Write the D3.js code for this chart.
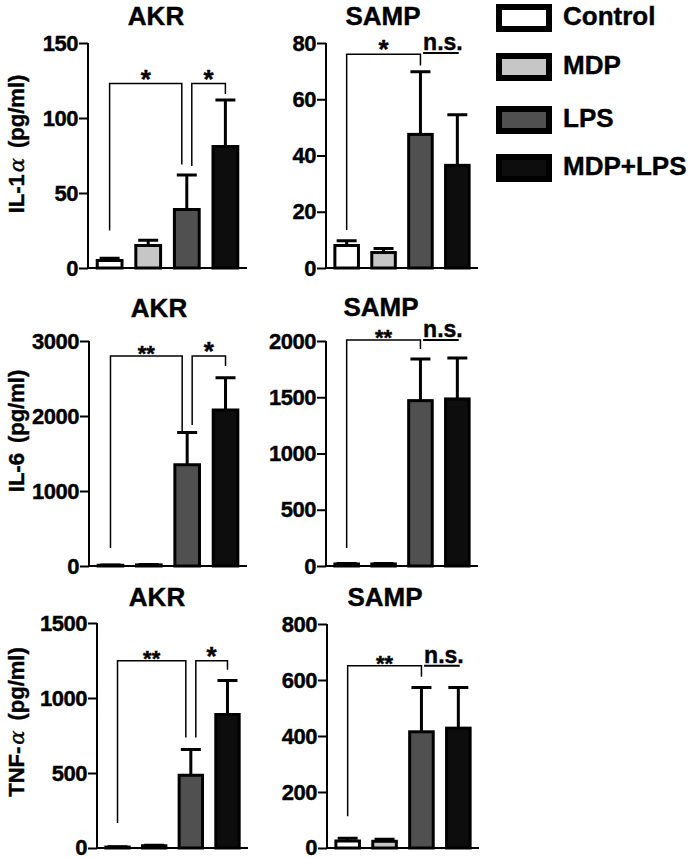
<!doctype html>
<html>
<head>
<meta charset="utf-8">
<script type='text/javascript' src='https://d3js.org/d3.v7.min.js'></script>
<style>
body { margin: 0; background: #fff; }
text { font-family: 'Liberation Sans', Arial, sans-serif; font-weight: bold; fill: #000; stroke: #000; stroke-width: 0.4px; }
</style>
</head>
<body>
<script>
var width = 697, height = 859;

// groups and colours
var groups = ['Control', 'MDP', 'LPS', 'MDP+LPS'];
var fills = ['#ffffff', '#c6c6c6', '#505050', '#0d0d0d'];

// IL-1a (pg/ml)
var il1AkrMean = [5, 15, 39, 81];
var il1AkrErr = [1.5, 3.5, 23, 31];
var il1SampMean = [8, 5.5, 47.5, 36.5];
var il1SampErr = [1.7, 1.4, 22.3, 18];
// IL-6 (pg/ml)
var il6AkrMean = [10, 15, 1350, 2080];
var il6AkrErr = [4, 5, 430, 430];
var il6SampMean = [18, 18, 1470, 1485];
var il6SampErr = [5, 5, 370, 365];
// TNF-a (pg/ml)
var tnfAkrMean = [6, 15, 485, 890];
var tnfAkrErr = [2, 4, 172, 226];
var tnfSampMean = [25, 24, 415, 428];
var tnfSampErr = [10, 7, 158, 145];

// tick values
var il1AkrTicks = [0, 50, 100, 150];
var il1SampTicks = [0, 20, 40, 60, 80];
var il6AkrTicks = [0, 1000, 2000, 3000];
var il6SampTicks = [0, 500, 1000, 1500, 2000];
var tnfAkrTicks = [0, 500, 1000, 1500];
var tnfSampTicks = [0, 200, 400, 600, 800];

// significance brackets: [from group, to group, bracket value, from-leg end, to-leg end, label]
var il1AkrSig = [[0, 2, 123, 25, 69, '*'], [2, 3, 123, 68, 116, '*']];
var il1SampSig = [[0, 2, 76, 13.5, 72, '*']];
var il6AkrSig = [[0, 2, 2800, 240, 1787, '**'], [2, 3, 2800, 1880, 2667, '*']];
var il6SampSig = [[0, 2, 2009, 160, 1929, '**']];
var tnfAkrSig = [[0, 2, 1248, 166, 737, '**'], [2, 3, 1248, 737, 1188, '*']];
var tnfSampSig = [[0, 2, 651, 113, 612, '**']];
// n.s. labels: value of baseline
var il1SampNs = 77.5, il6SampNs = 2035, tnfSampNs = 662;

var svg = d3.select('body').append('svg').attr('width', width).attr('height', height);

var panels = [
  {mean: il1AkrMean, err: il1AkrErr, ticks: il1AkrTicks, sig: il1AkrSig, ns: null,
   x0: 88, w: 159, top: 43, bottom: 268, title: 'AKR', tx: 156, ty: 25, label: ['IL-1', 'α'], ly: 144},
  {mean: il1SampMean, err: il1SampErr, ticks: il1SampTicks, sig: il1SampSig, ns: il1SampNs,
   x0: 326, w: 152, top: 43, bottom: 268, title: 'SAMP', tx: 383, ty: 25},
  {mean: il6AkrMean, err: il6AkrErr, ticks: il6AkrTicks, sig: il6AkrSig, ns: null,
   x0: 89, w: 158, top: 341, bottom: 566, title: 'AKR', tx: 159, ty: 317, label: ['IL-6', ''], ly: 431},
  {mean: il6SampMean, err: il6SampErr, ticks: il6SampTicks, sig: il6SampSig, ns: il6SampNs,
   x0: 326, w: 152, top: 341, bottom: 566, title: 'SAMP', tx: 381, ty: 316},
  {mean: tnfAkrMean, err: tnfAkrErr, ticks: tnfAkrTicks, sig: tnfAkrSig, ns: null,
   x0: 97, w: 151, top: 623, bottom: 848, title: 'AKR', tx: 157, ty: 606, label: ['TNF-', 'α'], ly: 722},
  {mean: tnfSampMean, err: tnfSampErr, ticks: tnfSampTicks, sig: tnfSampSig, ns: tnfSampNs,
   x0: 327, w: 152, top: 624, bottom: 848, title: 'SAMP', tx: 385, ty: 606}
];

panels.forEach(function(p) {
  var g = svg.append('g');
  var x = d3.scaleBand().domain(groups).range([p.x0, p.x0 + p.w]).paddingInner(0.28).paddingOuter(0.2);
  var y = d3.scaleLinear().domain([0, p.ticks[p.ticks.length - 1]]).range([p.bottom, p.top]);

  // error bars (upper only)
  var cap = 20;
  g.selectAll('.err').data(groups).join('path')
    .attr('d', function(d, i) {
      var cx = x(d) + x.bandwidth() / 2;
      var yt = y(p.mean[i] + p.err[i]);
      return 'M' + cx + ',' + y(p.mean[i]) + 'V' + yt + 'M' + (cx - cap / 2) + ',' + yt + 'H' + (cx + cap / 2);
    })
    .attr('stroke', '#000').attr('stroke-width', 3).attr('fill', 'none');

  // bars
  g.selectAll('.bar').data(groups).join('rect')
    .attr('x', function(d) { return x(d) + 1.5; })
    .attr('width', x.bandwidth() - 3)
    .attr('y', function(d, i) { return y(p.mean[i]); })
    .attr('height', function(d, i) { return Math.max(0, y(0) - y(p.mean[i])); })
    .attr('fill', function(d, i) { return fills[i]; })
    .attr('stroke', '#000').attr('stroke-width', 3);

  // axes
  var ax = d3.axisLeft(y).tickValues(p.ticks).tickSize(9).tickPadding(1).tickFormat(d3.format('d'));
  var axg = g.append('g').attr('transform', 'translate(' + p.x0 + ',0)').call(ax);
  axg.select('.domain').attr('stroke-width', 2).attr('d', 'M0,' + p.top + 'V' + p.bottom);
  axg.selectAll('.tick line').attr('stroke-width', 2);
  axg.selectAll('.tick text').style('font-size', '22px').style('font-family', "'Liberation Sans', Arial, sans-serif")
    .style('font-weight', 'bold').attr('dy', function(d) { return d === 0 && p.bottom > 800 ? '0.28em' : '0.32em'; })
    .style('letter-spacing', '-0.5px');
  g.append('line').attr('x1', p.x0).attr('x2', p.x0 + p.w).attr('y1', p.bottom).attr('y2', p.bottom)
    .attr('stroke', '#000').attr('stroke-width', 2);

  // title
  g.append('text').attr('x', p.tx).attr('y', p.ty).attr('text-anchor', 'middle')
    .style('font-size', '26px').text(p.title);

  // y label
  if (p.label) {
    var t = g.append('text').attr('transform', 'translate(24,' + p.ly + ') rotate(-90)')
      .attr('text-anchor', 'middle').style('font-size', '22px');
    t.append('tspan').text(p.label[0]);
    if (p.label[1]) t.append('tspan').style('font-family', "'DejaVu Serif', serif").style('font-style', 'italic')
      .style('font-weight', 'normal').style('font-size', '21px').attr('dx', 2).text(p.label[1]);
    t.append('tspan').attr('dx', 10).text('(pg/ml)');
  }

  // significance brackets
  var shared = {};
  p.sig.forEach(function(s) { shared[s[0]] = (shared[s[0]] || 0) + 1; shared[s[1]] = (shared[s[1]] || 0) + 1; });
  var cx = function(i) { return x(groups[i]) + x.bandwidth() / 2; };
  p.sig.forEach(function(s) {
    var xa = cx(s[0]) + (shared[s[0]] > 1 ? 5 : 0);
    var xb = cx(s[1]) - (shared[s[1]] > 1 ? 5 : 0);
    g.append('path')
      .attr('d', 'M' + xa + ',' + y(s[3]) + 'V' + y(s[2]) + 'H' + xb + 'V' + y(s[4]))
      .attr('fill', 'none').attr('stroke', '#000').attr('stroke-width', 1.5);
    var big = s[5].length === 1;
    g.append('text').attr('x', (xa + xb) / 2).attr('y', y(s[2]) + (big ? 4 : 5)).attr('text-anchor', 'middle')
      .style('font-size', big ? '26px' : '22px').text(s[5]);
  });

  if (p.ns !== null) {
    var nx = (cx(2) + cx(3)) / 2 + 4;
    var nt = g.append('text').attr('x', nx).attr('y', y(p.ns)).attr('text-anchor', 'middle')
      .style('font-size', '23px').text('n.s.');
    var bb = nt.node().getBBox();
    g.append('line').attr('x1', bb.x).attr('x2', bb.x + bb.width - 4)
      .attr('y1', y(p.ns) + 3).attr('y2', y(p.ns) + 3).attr('stroke', '#000').attr('stroke-width', 2);
  }
});

// legend
var legendY = [18, 67, 120, 168];
var leg = svg.append('g');
leg.selectAll('rect').data(groups).join('rect')
  .attr('x', 499).attr('y', function(d, i) { return legendY[i] - 11; })
  .attr('width', 50).attr('height', 22)
  .attr('fill', function(d, i) { return fills[i]; })
  .attr('stroke', '#000').attr('stroke-width', 6);
leg.selectAll('text').data(groups).join('text')
  .attr('x', 563).attr('y', function(d, i) { return legendY[i] + 7; })
  .style('font-size', '26px').text(function(d) { return d; });

console.log('ready..');
</script>
</body>
</html>
